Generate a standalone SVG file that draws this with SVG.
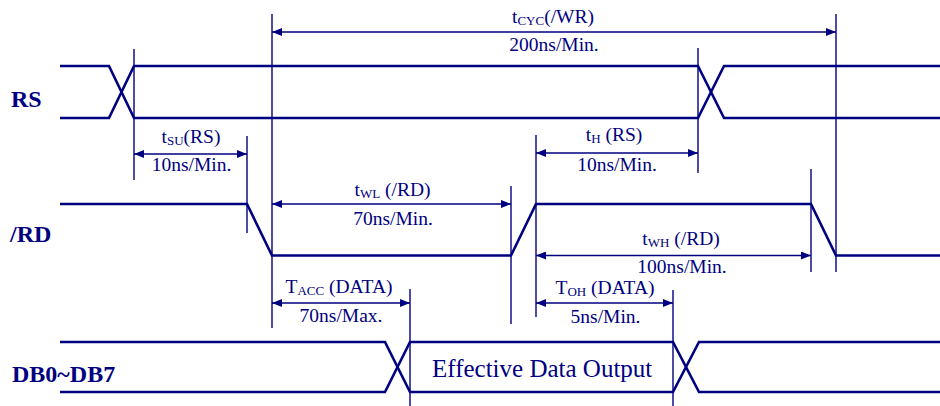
<svg xmlns="http://www.w3.org/2000/svg" width="940" height="406" viewBox="0 0 940 406">
<defs>
<marker id="ah" viewBox="0 0 10 8" refX="10" refY="4" markerWidth="10" markerHeight="8" markerUnits="userSpaceOnUse" orient="auto-start-reverse">
<path d="M0,0 L10,4 L0,8 z" fill="#000080"/>
</marker>
<style>
.sig{fill:none;stroke:#000080;stroke-width:2.6;stroke-linejoin:miter}
.ext{fill:none;stroke:#000080;stroke-width:1.4}
.dim{fill:none;stroke:#000080;stroke-width:1.4;marker-start:url(#ah);marker-end:url(#ah)}
.name{font-family:"Liberation Serif","Times New Roman",serif;font-weight:bold;font-size:24px;fill:#000080}
.lbl{font-family:"Liberation Serif","Times New Roman",serif;font-size:19.5px;fill:#000080;text-anchor:middle}
.sub{font-size:13px}
.big{font-family:"Liberation Serif","Times New Roman",serif;font-size:25px;fill:#000080}
</style>
</defs>
<rect width="940" height="406" fill="#ffffff"/>

<g id="sig-RS">
<text class="name" x="11" y="107">RS</text>
<polyline class="sig" points="60,66 109,66 134,118 698,118 724,66 940,66"/>
<polyline class="sig" points="60,118 109,118 134,66 698,66 724,118 940,118"/>
</g>

<g id="sig-RD">
<text class="name" x="10" y="242">/RD</text>
<polyline class="sig" points="60,204 247,204 272,255.5 511,255.5 536,204 811,204 836,255.5 940,255.5"/>
</g>

<g id="sig-DB">
<text class="name" x="12" y="382">DB0~DB7</text>
<polyline class="sig" points="60,342 385,342 410,392 673,392 699,342 940,342"/>
<polyline class="sig" points="60,392 385,392 410,342 673,342 699,392 940,392"/>
<text class="big" x="432" y="377">Effective Data Output</text>
</g>

<g id="connectors">
<line class="ext" x1="134" y1="49" x2="134" y2="180"/>
<line class="ext" x1="272" y1="14" x2="272" y2="328"/>
<line class="ext" x1="836" y1="14" x2="836" y2="272"/>
<line class="ext" x1="247" y1="136" x2="247" y2="233"/>
<line class="ext" x1="698" y1="48" x2="698" y2="173"/>
<line class="ext" x1="511" y1="186" x2="511" y2="324"/>
<line class="ext" x1="536" y1="135" x2="536" y2="317"/>
<line class="ext" x1="811" y1="169" x2="811" y2="272"/>
<line class="ext" x1="410" y1="289" x2="410" y2="406"/>
<line class="ext" x1="673" y1="290" x2="673" y2="406"/>

<g id="dim-tcyc">
<line class="dim" x1="272" y1="32" x2="836" y2="32"/>
<text class="lbl" x="553" y="23">t<tspan class="sub" dy="2">CYC</tspan><tspan dy="-2">(/WR)</tspan></text>
<text class="lbl" x="554" y="51">200ns/Min.</text>
</g>
<g id="dim-tsu">
<line class="dim" x1="134" y1="154" x2="247" y2="154"/>
<text class="lbl" x="191" y="143">t<tspan class="sub" dy="2">SU</tspan><tspan dy="-2">(RS)</tspan></text>
<text class="lbl" x="191.5" y="171">10ns/Min.</text>
</g>
<g id="dim-th">
<line class="dim" x1="536" y1="153" x2="698" y2="153"/>
<text class="lbl" x="614" y="141">t<tspan class="sub" dy="2">H</tspan><tspan dy="-2"> (RS)</tspan></text>
<text class="lbl" x="617" y="171">10ns/Min.</text>
</g>
<g id="dim-twl">
<line class="dim" x1="272" y1="204" x2="511" y2="204"/>
<text class="lbl" x="392.5" y="196">t<tspan class="sub" dy="2">WL</tspan><tspan dy="-2"> (/RD)</tspan></text>
<text class="lbl" x="393" y="225">70ns/Min.</text>
</g>
<g id="dim-twh">
<line class="dim" x1="536" y1="255.5" x2="811" y2="255.5"/>
<text class="lbl" x="681" y="245">t<tspan class="sub" dy="2">WH</tspan><tspan dy="-2"> (/RD)</tspan></text>
<text class="lbl" x="682" y="273">100ns/Min.</text>
</g>
<g id="dim-tacc">
<line class="dim" x1="272" y1="303" x2="410" y2="303"/>
<text class="lbl" x="339" y="293">T<tspan class="sub" dy="2">ACC</tspan><tspan dy="-2"> (DATA)</tspan></text>
<text class="lbl" x="341" y="322">70ns/Max.</text>
</g>
<g id="dim-toh">
<line class="dim" x1="536" y1="303" x2="673" y2="303"/>
<text class="lbl" x="605" y="294">T<tspan class="sub" dy="2">OH</tspan><tspan dy="-2"> (DATA)</tspan></text>
<text class="lbl" x="605.5" y="323">5ns/Min.</text>
</g>
</g>
</svg>
